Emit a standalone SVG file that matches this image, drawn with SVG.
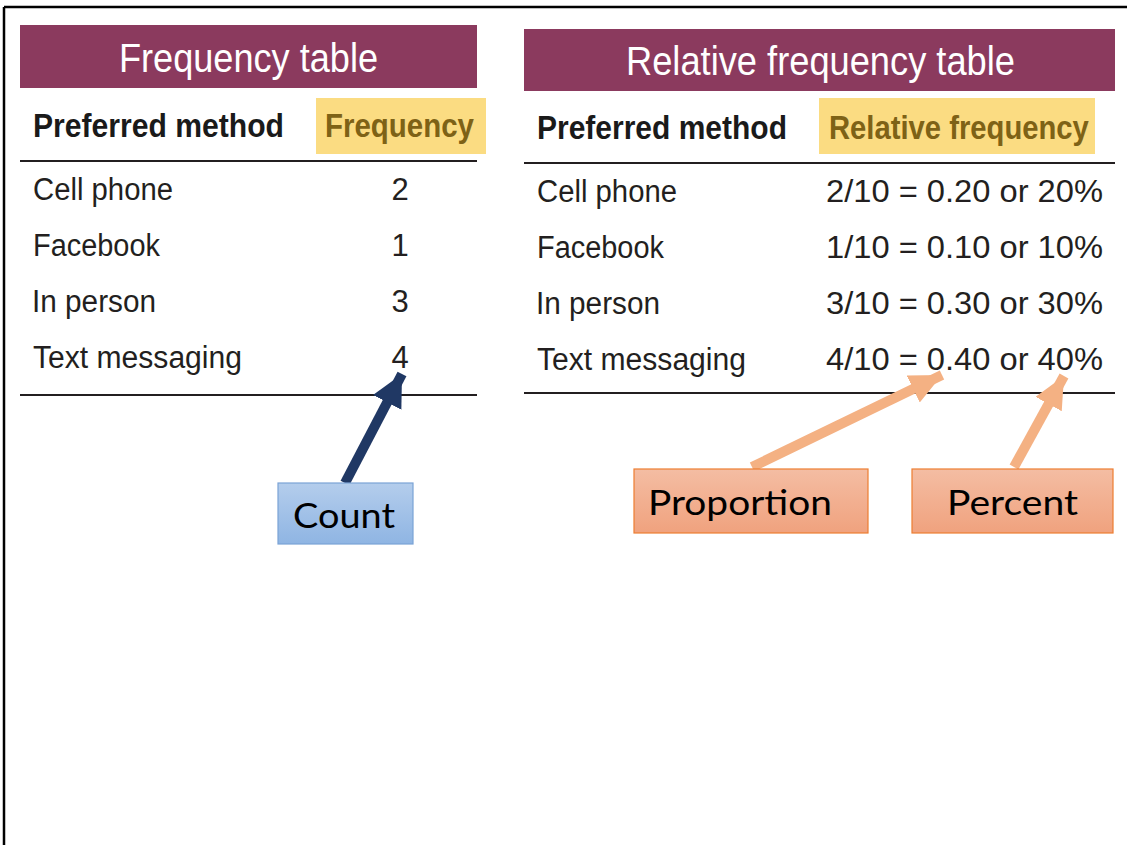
<svg xmlns="http://www.w3.org/2000/svg" width="1127" height="845" viewBox="0 0 1127 845">
<style>
.title{font-family:"Liberation Sans Narrow","Liberation Sans",Arial,sans-serif;font-size:41px;fill:#ffffff}
.hd{font-family:"Liberation Sans Narrow","Liberation Sans",Arial,sans-serif;font-size:34px;font-weight:bold;fill:#1a1a1a}
.hdy{font-family:"Liberation Sans Narrow","Liberation Sans",Arial,sans-serif;font-size:34px;font-weight:bold;fill:#7e6216}
.cell{font-family:"Liberation Sans Narrow","Liberation Sans",Arial,sans-serif;font-size:31px;fill:#231f20}
.lbl{font-family:Lato,"Open Sans",sans-serif;font-size:35px;fill:#000000}
.bar{fill:#8b3a5e}
.hl{fill:#fbdc82}
.rule{stroke:#231f20;stroke-width:2}
</style>
<defs>
<linearGradient id="gBlue" x1="0" y1="0" x2="0" y2="1"><stop offset="0" stop-color="#b4cdec"/><stop offset="1" stop-color="#8fb5e3"/></linearGradient>
<linearGradient id="gOrange" x1="0" y1="0" x2="0" y2="1"><stop offset="0" stop-color="#f4bda3"/><stop offset="1" stop-color="#f0a27e"/></linearGradient>
<marker id="headNavy" markerUnits="userSpaceOnUse" markerWidth="34" markerHeight="34" refX="32" refY="16" orient="auto"><path d="M0,0 L32,16 L0,32 z" fill="#203864"/></marker>
<marker id="headOrange" markerUnits="userSpaceOnUse" markerWidth="34" markerHeight="34" refX="32" refY="15" orient="auto"><path d="M0,0 L32,15 L0,30 z" fill="#f4b183"/></marker>
</defs>
<rect width="1127" height="845" fill="#ffffff"/>
<g id="frame" stroke="#000000" stroke-width="2.5" fill="none">
<line x1="4" y1="7" x2="1127" y2="7"/>
<line x1="4" y1="7" x2="4" y2="845"/>
</g>
<g id="freq-table">
<rect class="bar" x="20" y="25" width="457" height="63"/>
<text class="title" x="119" y="72" textLength="259" lengthAdjust="spacingAndGlyphs">Frequency table</text>
<rect class="hl" x="316" y="98" width="170" height="56"/>
<text class="hd" x="33" y="137" textLength="251" lengthAdjust="spacingAndGlyphs">Preferred method</text>
<text class="hdy" x="325" y="137" textLength="149" lengthAdjust="spacingAndGlyphs">Frequency</text>
<line class="rule" x1="20" y1="161" x2="477" y2="161"/>
<text class="cell" x="33" y="200" textLength="140" lengthAdjust="spacingAndGlyphs">Cell phone</text>
<text class="cell" x="33" y="256" textLength="127" lengthAdjust="spacingAndGlyphs">Facebook</text>
<text class="cell" x="32" y="312" textLength="124" lengthAdjust="spacingAndGlyphs">In person</text>
<text class="cell" x="33" y="368" textLength="209" lengthAdjust="spacingAndGlyphs">Text messaging</text>
<text class="cell" x="400" y="200" text-anchor="middle">2</text>
<text class="cell" x="400" y="256" text-anchor="middle">1</text>
<text class="cell" x="400" y="312" text-anchor="middle">3</text>
<text class="cell" x="400" y="368" text-anchor="middle">4</text>
<line class="rule" x1="20" y1="395" x2="477" y2="395"/>
</g>
<g id="rel-table">
<rect class="bar" x="524" y="29" width="591" height="62"/>
<text class="title" x="626" y="75" textLength="389" lengthAdjust="spacingAndGlyphs">Relative frequency table</text>
<rect class="hl" x="819" y="98" width="276" height="56"/>
<text class="hd" x="537" y="139" textLength="250" lengthAdjust="spacingAndGlyphs">Preferred method</text>
<text class="hdy" x="0" y="0" transform="translate(829,139) scale(0.86,1)">Relative frequency</text>
<line class="rule" x1="524" y1="163" x2="1115" y2="163"/>
<text class="cell" x="537" y="202" textLength="140" lengthAdjust="spacingAndGlyphs">Cell phone</text>
<text class="cell" x="537" y="258" textLength="127" lengthAdjust="spacingAndGlyphs">Facebook</text>
<text class="cell" x="536" y="314" textLength="124" lengthAdjust="spacingAndGlyphs">In person</text>
<text class="cell" x="537" y="370" textLength="209" lengthAdjust="spacingAndGlyphs">Text messaging</text>
<text class="cell" x="826" y="202" textLength="277" lengthAdjust="spacingAndGlyphs">2/10 = 0.20 or 20%</text>
<text class="cell" x="826" y="258" textLength="277" lengthAdjust="spacingAndGlyphs">1/10 = 0.10 or 10%</text>
<text class="cell" x="826" y="314" textLength="277" lengthAdjust="spacingAndGlyphs">3/10 = 0.30 or 30%</text>
<text class="cell" x="826" y="370" textLength="277" lengthAdjust="spacingAndGlyphs">4/10 = 0.40 or 40%</text>
<line class="rule" x1="524" y1="393" x2="1115" y2="393"/>
</g>
<g id="connectors" fill="none">
<line x1="345" y1="483" x2="402" y2="374" stroke="#203864" stroke-width="10" marker-end="url(#headNavy)"/>
<line x1="752" y1="467" x2="942" y2="375" stroke="#f4b183" stroke-width="10" marker-end="url(#headOrange)"/>
<line x1="1014" y1="467" x2="1064" y2="376" stroke="#f4b183" stroke-width="10" marker-end="url(#headOrange)"/>
</g>
<g id="count">
<rect x="278" y="483" width="135" height="61" fill="url(#gBlue)" stroke="#7ba3d6" stroke-width="1.2"/>
<text class="lbl" x="293" y="528" textLength="102" lengthAdjust="spacingAndGlyphs">Count</text>
</g>
<g id="proportion">
<rect x="634" y="469" width="234" height="64" fill="url(#gOrange)" stroke="#ed7d31" stroke-width="1.2"/>
<text class="lbl" x="648" y="515" textLength="184" lengthAdjust="spacingAndGlyphs">Proportion</text>
</g>
<g id="percent">
<rect x="912" y="469" width="201" height="64" fill="url(#gOrange)" stroke="#ed7d31" stroke-width="1.2"/>
<text class="lbl" x="947" y="515" textLength="131" lengthAdjust="spacingAndGlyphs">Percent</text>
</g>
</svg>
